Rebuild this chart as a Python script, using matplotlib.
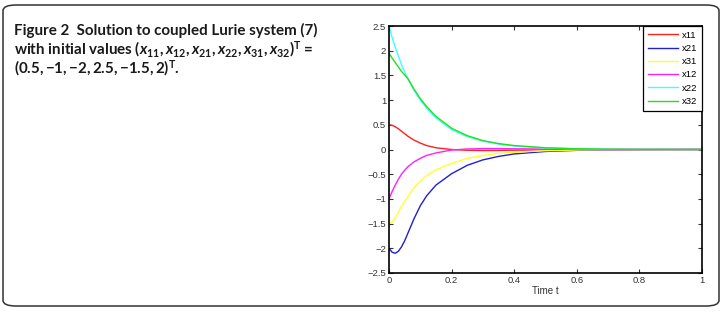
import matplotlib
matplotlib.use('Agg')
import matplotlib.pyplot as plt
from matplotlib.patches import FancyBboxPatch

# time samples
t = [0, 0.01, 0.02, 0.03, 0.04, 0.05, 0.06, 0.08, 0.1, 0.12, 0.15,
     0.2, 0.25, 0.3, 0.35, 0.4, 0.5, 0.6, 0.7, 0.8, 0.9, 1.0]

x11 = [0.50, 0.49, 0.46, 0.42, 0.37, 0.32, 0.27, 0.19, 0.13, 0.08, 0.035,
       0.0, -0.015, -0.02, -0.018, -0.014, -0.007, -0.003, -0.001, 0, 0, 0]
x21 = [-2.00, -2.08, -2.10, -2.06, -1.97, -1.85, -1.70, -1.40, -1.14, -0.94, -0.72,
       -0.49, -0.32, -0.21, -0.14, -0.09, -0.04, -0.017, -0.007, -0.003, -0.001, 0]
x31 = [-1.50, -1.47, -1.38, -1.27, -1.15, -1.05, -0.96, -0.77, -0.64, -0.53, -0.41,
       -0.28, -0.18, -0.12, -0.08, -0.055, -0.025, -0.01, -0.004, -0.002, -0.001, 0]
x12 = [-1.00, -0.85, -0.72, -0.60, -0.50, -0.42, -0.35, -0.25, -0.18, -0.12, -0.07,
       -0.01, 0.01, 0.018, 0.018, 0.015, 0.008, 0.003, 0.001, 0, 0, 0]
x22 = [2.50, 2.27, 2.07, 1.89, 1.72, 1.57, 1.43, 1.20, 1.00, 0.84, 0.64,
       0.40, 0.26, 0.17, 0.11, 0.07, 0.03, 0.012, 0.005, 0.002, 0.001, 0]
x32 = [1.95, 1.85, 1.76, 1.67, 1.58, 1.51, 1.44, 1.22, 1.03, 0.87, 0.67,
       0.43, 0.28, 0.18, 0.12, 0.08, 0.035, 0.015, 0.006, 0.002, 0.001, 0]

series = [('x11', x11, '#ff2020'), ('x21', x21, '#2020d0'), ('x31', x31, '#ffff30'),
          ('x12', x12, '#ff20ff'), ('x22', x22, '#40ffff'), ('x32', x32, '#20e020')]

xticks = [0, 0.2, 0.4, 0.6, 0.8, 1]
xticklabels = ['0', '0.2', '0.4', '0.6', '0.8', '1']
yticks = [-2.5, -2, -1.5, -1, -0.5, 0, 0.5, 1, 1.5, 2, 2.5]
yticklabels = ['\u22122.5', '\u22122', '\u22121.5', '\u22121', '\u22120.5', '0',
               '0.5', '1', '1.5', '2', '2.5']

plt.rcParams['font.family'] = ['Liberation Sans', 'DejaVu Sans']
plt.rcParams['mathtext.fontset'] = 'custom'
plt.rcParams['mathtext.rm'] = 'Lato:bold'
plt.rcParams['mathtext.it'] = 'Lato:bold:italic'
plt.rcParams['mathtext.bf'] = 'Lato:bold'

W, H = 725, 314
fig = plt.figure(figsize=(W / 100, H / 100), dpi=100)

# rounded frame around the figure panel
frame = FancyBboxPatch((3 / W, 8 / H), 716 / W, 301 / H,
                       boxstyle='round,pad=0,rounding_size=0.018',
                       transform=fig.transFigure, facecolor='none',
                       edgecolor='#333333', linewidth=1.1)
fig.patches.append(frame)

# caption
cap_kw = dict(fontsize=10.9, fontweight='bold', family='Lato', color='#1a1a1a',
              va='center', ha='left')
fig.text(14 / W, 1 - 30 / H, 'Figure 2  Solution to coupled Lurie system (7)', **cap_kw)
fig.text(14 / W, 1 - 49 / H,
         r'with initial values $(x_{11}, x_{12}, x_{21}, x_{22}, x_{31}, x_{32})^{\mathrm{T}}$ =',
         **cap_kw)
fig.text(14 / W, 1 - 68 / H, r'$(0.5,{-1},{-2},2.5,{-1.5},2)^{\mathrm{T}}$.', **cap_kw)

ax = fig.add_axes([389 / W, 41 / H, 313 / W, 247 / H])
for name, vals, col in series:
    ax.plot(t, vals, color=col, linewidth=1.0, label=name)

ax.set_xlim(0, 1)
ax.set_ylim(-2.5, 2.5)
ax.set_xticks(xticks)
ax.set_xticklabels(xticklabels)
ax.set_yticks(yticks)
ax.set_yticklabels(yticklabels)
ax.tick_params(direction='in', length=3, width=0.8, labelsize=6.8, colors='#333333',
               top=True, right=True, pad=2)
for s in ax.spines.values():
    s.set_linewidth(1.2)
ax.set_xlabel('Time t', fontsize=7, color='#333333', labelpad=1)

leg = ax.legend(loc='upper right', borderaxespad=0, fontsize=6.8, fancybox=False,
                edgecolor='black', framealpha=1, handlelength=3.2,
                labelspacing=0.45, handletextpad=0.4, borderpad=0.5)
leg.get_frame().set_linewidth(0.9)

fig.savefig('out.png', dpi=100)
